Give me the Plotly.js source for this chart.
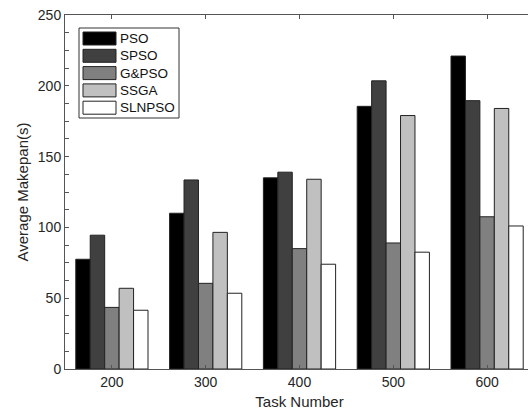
<!DOCTYPE html>
<html>
<head>
<meta charset="utf-8">
<script src="https://cdn.plot.ly/plotly-3.0.1.min.js"></script>
<style>
html,body{margin:0;padding:0;overflow:hidden;background:#fff;}
#chart{width:540px;height:415px;}
</style>
</head>
<body>
<div id="chart"></div>
<script>
// Data
const categories = ['200', '300', '400', '500', '600'];
const seriesNames = ['PSO', 'SPSO', 'G&PSO', 'SSGA', 'SLNPSO'];
const PSO    = [77.5, 110, 135, 185.5, 221];
const SPSO   = [94.5, 133.5, 139, 203.5, 189.5];
const GPSO   = [43.5, 60.5, 85, 89, 107.5];
const SSGA   = [57, 96.5, 134, 179, 184];
const SLNPSO = [41.5, 53.5, 74, 82.5, 101];
const seriesValues = [PSO, SPSO, GPSO, SSGA, SLNPSO];
const seriesColors = ['#000000', '#404040', '#808080', '#c0c0c0', '#ffffff'];

const W = 540, H = 415;
const M = {l: 65, r: 6, t: 15, b: 46};
const pw = W - M.l - M.r, ph = H - M.t - M.b;
const px2x = p => (p - M.l) / pw;
const px2y = p => 1 - (p - M.t) / ph;

const traces = seriesNames.map((name, i) => ({
  type: 'bar',
  name: name,
  x: categories,
  y: seriesValues[i],
  marker: {color: seriesColors[i], line: {color: '#222', width: 1}},
  showlegend: false,
  hoverinfo: 'x+y+name'
}));

// custom legend (box + swatches + labels)
const shapes = [];
const annotations = [];
shapes.push({type: 'rect', xref: 'paper', yref: 'paper',
  x0: px2x(79), x1: px2x(179), y0: px2y(118), y1: px2y(28),
  line: {color: '#333', width: 1}, fillcolor: '#fff'});
seriesNames.forEach((name, i) => {
  const top = 32 + i * 17.3, bot = top + 13;
  shapes.push({type: 'rect', xref: 'paper', yref: 'paper',
    x0: px2x(83), x1: px2x(116), y0: px2y(bot), y1: px2y(top),
    line: {color: '#222', width: 1}, fillcolor: seriesColors[i]});
  annotations.push({xref: 'paper', yref: 'paper', x: px2x(118), y: px2y((top + bot) / 2),
    xanchor: 'left', yanchor: 'middle', text: name, showarrow: false,
    font: {family: 'Liberation Sans, Arial, sans-serif', size: 13.5, color: '#111'}});
});

const layout = {
  width: W, height: H,
  margin: M,
  paper_bgcolor: '#fff', plot_bgcolor: '#fff',
  font: {family: 'Liberation Sans, Arial, sans-serif', size: 14, color: '#262626'},
  barmode: 'group',
  bargap: 0.23,
  bargroupgap: 0,
  xaxis: {
    type: 'category',
    range: [-0.5, 4.5],
    showline: true, linecolor: '#555', linewidth: 1,
    mirror: 'ticks', ticks: 'inside', ticklen: 4, tickcolor: '#555',
    showgrid: false, zeroline: false,
    tickfont: {size: 14, color: '#262626'},
    title: {text: 'Task Number', font: {size: 15, color: '#262626'}, standoff: 7}
  },
  yaxis: {
    range: [0, 250],
    dtick: 50,
    showline: true, linecolor: '#555', linewidth: 1,
    mirror: 'ticks', ticks: 'inside', ticklen: 4, tickcolor: '#555',
    minor: {dtick: 12.5, ticks: 'inside', ticklen: 4, tickcolor: '#555', showgrid: false},
    showgrid: false, zeroline: false,
    tickfont: {size: 14, color: '#262626'},
    title: {text: 'Average Makepan(s)', font: {size: 15, color: '#262626'}, standoff: 5}
  },
  shapes: shapes,
  annotations: annotations
};

Plotly.newPlot('chart', traces, layout, {displayModeBar: false, staticPlot: true});
</script>
</body>
</html>
